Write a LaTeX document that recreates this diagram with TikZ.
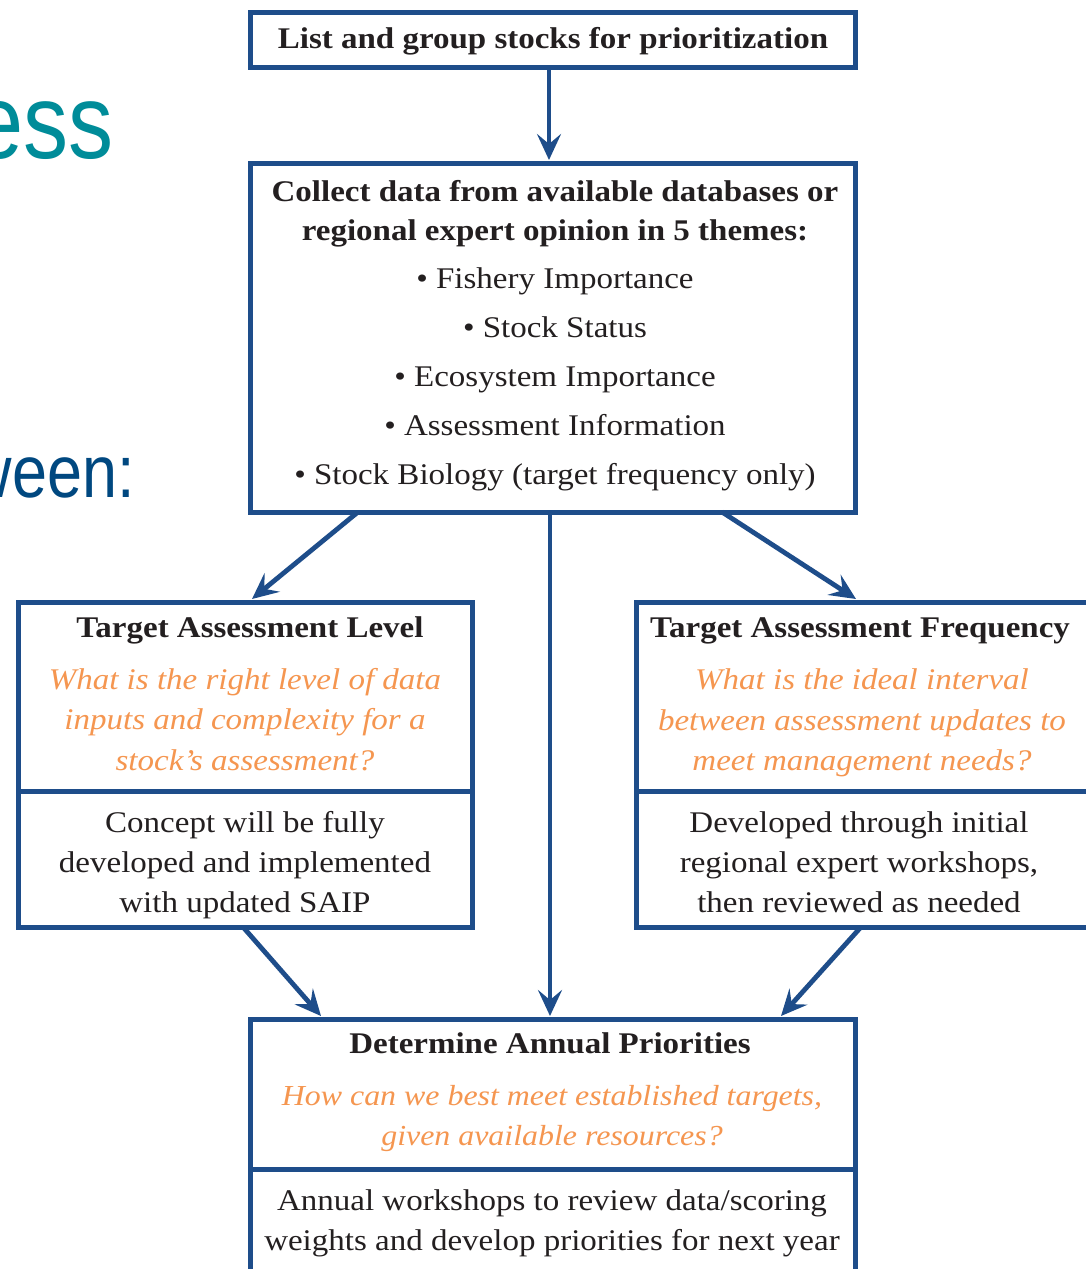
\documentclass[tikz,border=0pt]{standalone}
\usepackage{fontspec}
\setmainfont{Liberation Serif}[FakeStretch=1.1]
\newfontfamily\narrowsans{Liberation Sans}[FakeStretch=0.85]
\usetikzlibrary{arrows.meta}
\definecolor{bordercol}{RGB}{30,77,138}
\definecolor{qorange}{RGB}{245,150,80}
\definecolor{txtcol}{RGB}{35,31,32}
\definecolor{tealcol}{RGB}{0,140,153}
\definecolor{navycol}{RGB}{0,72,128}
\begin{document}
\begin{tikzpicture}[x=1pt,y=-1pt,
  box/.style={draw=bordercol, line width=5pt, rectangle, inner sep=0pt, outer sep=0pt},
  divider/.style={draw=bordercol, line width=5pt},
  arr/.style={draw=bordercol, line width=4.8pt, -{Stealth[length=26pt,width=24pt,inset=10pt]}},
  line/.style={anchor=base, inner sep=0pt, text=txtcol},
  ttl/.style={line, font=\bfseries\fontsize{30}{36}\selectfont},
  reg/.style={line, font=\fontsize{30}{36}\selectfont},
  qst/.style={line, text=qorange, font=\itshape\fontsize{30}{36}\selectfont},
  qstn/.style={qst, font=\itshape\fontsize{29}{36}\selectfont},
  big/.style={anchor=base east, inner sep=0pt, font=\narrowsans\fontsize{106}{110}\selectfont}
]
\useasboundingbox (0,0) rectangle (1086,1269);
\clip (0,0) rectangle (1086,1269);
\fill[white] (0,0) rectangle (1086,1269);

% headline fragments
\node[big, text=tealcol] (h1) at (114,158) {ess};
\node[big, text=navycol, font=\narrowsans\fontsize{74}{80}\selectfont] (h2) at (135,497) {ween:};

% boxes
\node[box, minimum width=605pt, minimum height=55pt] (b1) at (552.5,39.5) {};
\node[box, minimum width=605pt, minimum height=349pt] (b2) at (552.5,337.5) {};
\node[box, minimum width=454pt, minimum height=325pt] (b3) at (245,764.5) {};
\node[box, minimum width=454pt, minimum height=325pt] (b4) at (863,764.5) {};
\node[box, minimum width=605pt, minimum height=281pt] (b5) at (552.5,1159.5) {};

% dividers
\coordinate (d3l) at (18,791); \coordinate (d3r) at (472,791);
\coordinate (d4l) at (636,791); \coordinate (d4r) at (1090,791);
\coordinate (d5l) at (250,1169); \coordinate (d5r) at (855,1169);
\draw[divider] (d3l) -- (d3r);
\draw[divider] (d4l) -- (d4r);
\draw[divider] (d5l) -- (d5r);

% box 1 text
\node[ttl] (t1) at (553,48) {List and group stocks for prioritization};

% box 2 text
\node[ttl] (t2a) at (555,201) {Collect data from available databases or};
\node[ttl] (t2b) at (555,240) {regional expert opinion in 5 themes:};
\node[reg] (t2c) at (555,288) {• Fishery Importance};
\node[reg] (t2d) at (555,337) {• Stock Status};
\node[reg] (t2e) at (555,386) {• Ecosystem Importance};
\node[reg] (t2f) at (555,435) {• Assessment Information};
\node[reg] (t2g) at (555,484) {• Stock Biology (target frequency only)};

% box 3 text
\node[ttl] (t3a) at (250,637) {Target Assessment Level};
\node[qst] (t3b) at (245,689) {What is the right level of data};
\node[qst] (t3c) at (245,729) {inputs and complexity for a};
\node[qst] (t3d) at (245,770) {stock’s assessment?};
\node[reg] (t3e) at (245,832) {Concept will be fully};
\node[reg] (t3f) at (245,872) {developed and implemented};
\node[reg] (t3g) at (245,912) {with updated SAIP};

% box 4 text
\node[ttl] (t4a) at (860,637) {Target Assessment Frequency};
\node[qst] (t4b) at (862,689) {What is the ideal interval};
\node[qst] (t4c) at (862,730) {between assessment updates to};
\node[qst] (t4d) at (862,770) {meet management needs?};
\node[reg] (t4e) at (859,832) {Developed through initial};
\node[reg] (t4f) at (859,872) {regional expert workshops,};
\node[reg] (t4g) at (859,912) {then reviewed as needed};

% box 5 text
\node[ttl] (t5a) at (550,1053) {Determine Annual Priorities};
\node[qstn] (t5b) at (552,1105) {How can we best meet established targets,};
\node[qstn] (t5c) at (552,1145) {given available resources?};
\node[reg] (t5d) at (552,1210) {Annual workshops to review data/scoring};
\node[reg] (t5e) at (552,1250) {weights and develop priorities for next year};

% connector end points on the box borders
\coordinate (b1s) at (549,67);   \coordinate (b2n) at (549,160);
\coordinate (b2sl) at (358,512); \coordinate (b3n) at (252,599);
\coordinate (b2sr) at (722,512); \coordinate (b4n) at (856,599);
\coordinate (b2sm) at (550,512); \coordinate (b5nm) at (550,1016);
\coordinate (b3s) at (243,927);  \coordinate (b5nl) at (321,1016);
\coordinate (b4s) at (861,927);  \coordinate (b5nr) at (781,1016);

% connectors
\draw[arr] (b1s) -- (b2n);
\draw[arr] (b2sl) -- (b3n);
\draw[arr] (b2sr) -- (b4n);
\draw[arr] (b2sm) -- (b5nm);
\draw[arr] (b3s) -- (b5nl);
\draw[arr] (b4s) -- (b5nr);
\end{tikzpicture}
\end{document}
